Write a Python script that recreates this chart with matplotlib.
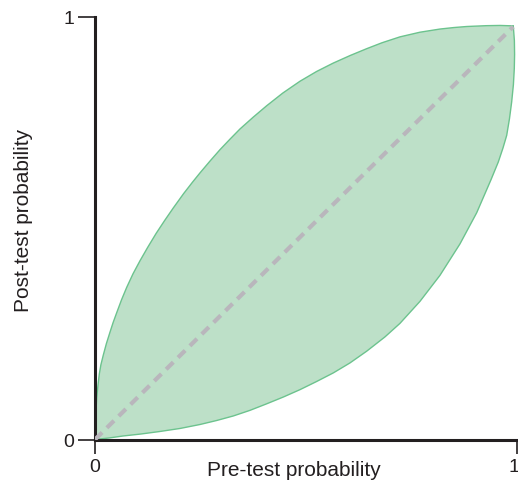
import matplotlib
matplotlib.use("Agg")
import matplotlib.pyplot as plt
import matplotlib.transforms as mtransforms

plt.rcParams['font.family'] = ['Liberation Sans', 'DejaVu Sans']

# Upper curve (positive test)
upper_pre = [0.0, 0.0017, 0.003, 0.004, 0.007, 0.0102, 0.014, 0.0197, 0.027, 0.0355,
             0.043, 0.0514, 0.063, 0.0751, 0.09, 0.1066, 0.125, 0.145, 0.1655, 0.1855,
             0.21, 0.231, 0.2488, 0.2725, 0.2962, 0.32, 0.3436, 0.375, 0.4069, 0.445,
             0.4858, 0.525, 0.5647, 0.605, 0.6438, 0.68, 0.7227, 0.7701, 0.8175, 0.85,
             0.8808, 0.9282, 0.96, 0.9912]
upper_post = [0.0, 0.056, 0.080, 0.098, 0.128, 0.155, 0.177, 0.200, 0.227, 0.254,
              0.277, 0.300, 0.331, 0.360, 0.392, 0.423, 0.455, 0.488, 0.519, 0.548,
              0.582, 0.609, 0.631, 0.659, 0.686, 0.711, 0.735, 0.763, 0.790, 0.820,
              0.848, 0.871, 0.891, 0.909, 0.925, 0.939, 0.953, 0.964, 0.9715, 0.975,
              0.9775, 0.9795, 0.980, 0.979]

# Lower curve (negative test)
lower_pre = [0.0, 0.0332, 0.0664, 0.109, 0.154, 0.2014, 0.2488, 0.2884, 0.3277, 0.3673,
             0.4069, 0.4462, 0.4858, 0.5254, 0.5647, 0.6043, 0.6438, 0.6872, 0.7227, 0.7701,
             0.8175, 0.8649, 0.9045, 0.9384, 0.9557, 0.9668, 0.9756, 0.9822, 0.9874, 0.9915,
             0.9936, 0.9943, 0.9938, 0.9912]
lower_post = [0.0, 0.0036, 0.0083, 0.013, 0.019, 0.0261, 0.0355, 0.045, 0.0557, 0.0690,
              0.0845, 0.1005, 0.1180, 0.1374, 0.1576, 0.1813, 0.2090, 0.2429, 0.2749, 0.3270,
              0.3886, 0.4630, 0.5367, 0.6149, 0.6569, 0.6900, 0.7199, 0.7595, 0.7991, 0.8401,
              0.8780, 0.9112, 0.9443, 0.9787]

# Diagonal reference line
diag_pre = [0.0, 0.991]
diag_post = [0.0, 0.977]

x_ticks = [0, 1]
x_labels = ["0", "1"]
y_ticks = [0, 1]
y_labels = ["0", "1"]

fig = plt.figure(figsize=(5.18, 4.85), dpi=100)
ax = fig.add_axes([95/518, 1-440.5/485, 422/518, 422.5/485])

poly_x = upper_pre + lower_pre[::-1]
poly_y = upper_post + lower_post[::-1]
ax.fill(poly_x, poly_y, facecolor='#bde0c8', edgecolor='none', zorder=1)
ax.plot(upper_pre, upper_post, color='#6cc38e', lw=1.0, zorder=2)
ax.plot(lower_pre, lower_post, color='#6cc38e', lw=1.0, zorder=2)
ax.plot(diag_pre, diag_post, color='#b9b6bc', lw=3, dashes=(2.4, 1.6), zorder=3)

ax.set_xlim(0, 1)
ax.set_ylim(0, 1)
for s in ['top', 'right']:
    ax.spines[s].set_visible(False)
for s in ['left', 'bottom']:
    ax.spines[s].set_color('#231f20')
    ax.spines[s].set_linewidth(2.2)
ax.set_xticks(x_ticks)
ax.set_xticklabels(x_labels)
ax.set_yticks(y_ticks)
ax.set_yticklabels(y_labels)
ax.tick_params(axis='x', length=10, width=1.2, color='#231f20', labelsize=14, pad=3)
ax.tick_params(axis='y', length=12, width=1.2, color='#231f20', labelsize=14, pad=3)
ax.set_xlabel("Pre-test probability", fontsize=15, color='#231f20')
ax.set_ylabel("Post-test probability", fontsize=15, color='#231f20')
ax.xaxis.set_label_coords(0.4716, -0.048)
ax.yaxis.set_label_coords(-0.147, 0.522)
for lab in ax.get_xticklabels() + ax.get_yticklabels():
    lab.set_color('#231f20')

# nudge the right-most x tick label slightly inward
last = ax.xaxis.get_major_ticks()[-1].label1
last.set_transform(last.get_transform() + mtransforms.ScaledTranslation(-3/100, 0, fig.dpi_scale_trans))

fig.savefig("out.png", dpi=100)
